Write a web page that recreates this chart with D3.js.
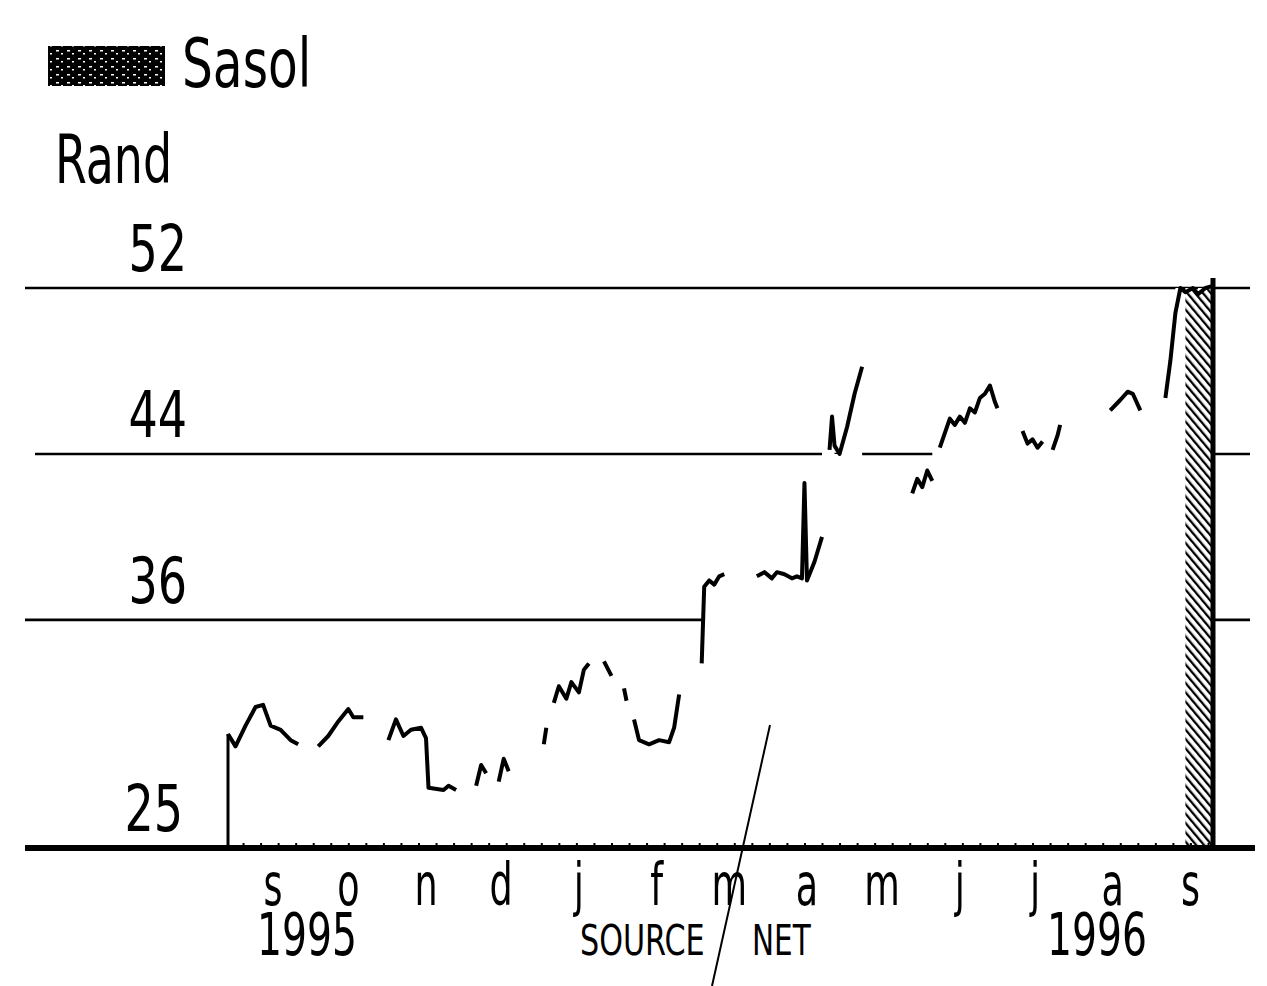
<!DOCTYPE html>
<html>
<head>
<meta charset="utf-8">
<script src="https://cdn.jsdelivr.net/npm/d3@7"></script>
<style>
  body { margin: 0; background: #fff; }
  text { font-family: 'DejaVu Sans Condensed', 'Liberation Sans Narrow', 'Roboto', sans-serif; fill: #000; }
</style>
</head>
<body>
<svg id="chart"></svg>
<script>
// Sasol share price, Rand (null = no ink printed)
var dates = [
  "1995-08-28","1995-08-31","1995-09-04","1995-09-08","1995-09-11","1995-09-14","1995-09-18","1995-09-22","1995-09-25","1995-09-29",
  "1995-10-03","1995-10-07","1995-10-11","1995-10-15","1995-10-17","1995-10-21","1995-10-26",
  "1995-10-31","1995-11-03","1995-11-06","1995-11-09","1995-11-13","1995-11-15","1995-11-16","1995-11-22","1995-11-24","1995-11-27","1995-12-01",
  "1995-12-05","1995-12-07","1995-12-09","1995-12-11","1995-12-14","1995-12-16","1995-12-18","1995-12-25",
  "1996-01-01","1996-01-02","1996-01-03",
  "1996-01-05","1996-01-07","1996-01-10","1996-01-12","1996-01-15","1996-01-17","1996-01-19","1996-01-22",
  "1996-01-25","1996-01-28","1996-01-31","1996-02-02","1996-02-03","1996-02-05",
  "1996-02-06","1996-02-08","1996-02-12","1996-02-16","1996-02-20","1996-02-22","1996-02-24","1996-02-28",
  "1996-03-04","1996-03-05","1996-03-07","1996-03-09","1996-03-11","1996-03-13","1996-03-19",
  "1996-03-26","1996-03-29","1996-04-01","1996-04-03","1996-04-06","1996-04-09","1996-04-11","1996-04-13","1996-04-14","1996-04-15","1996-04-18","1996-04-21","1996-04-22",
  "1996-04-24","1996-04-25","1996-04-26","1996-04-28","1996-05-01","1996-05-04","1996-05-07","1996-05-16",
  "1996-05-27","1996-05-29","1996-05-31","1996-06-02","1996-06-04","1996-06-05",
  "1996-06-07","1996-06-09","1996-06-11","1996-06-13","1996-06-15","1996-06-17","1996-06-19","1996-06-21","1996-06-23","1996-06-25","1996-06-27","1996-06-29","1996-06-30","1996-07-05",
  "1996-07-10","1996-07-12","1996-07-14","1996-07-16","1996-07-18","1996-07-20",
  "1996-07-22","1996-07-24","1996-07-25","1996-08-01",
  "1996-08-14","1996-08-18","1996-08-21","1996-08-23","1996-08-26","1996-08-30",
  "1996-09-05","1996-09-07","1996-09-09","1996-09-11","1996-09-13","1996-09-16","1996-09-18","1996-09-21","1996-09-24"
];
var prices = [
  30.5,29.9,30.9,31.8,31.9,30.9,30.7,30.2,30.0,null,
  29.9,30.4,31.1,31.7,31.3,31.3,null,
  30.2,31.2,30.4,30.7,30.8,30.3,27.9,27.8,28.0,27.8,null,
  28.0,29.0,28.6,null,28.2,29.3,28.7,null,
  30.0,30.8,null,
  32.0,32.8,32.2,33.0,32.5,33.6,33.9,null,
  34.0,33.3,null,32.7,32.1,null,
  31.2,30.2,30.0,30.2,30.1,30.8,32.4,null,
  33.9,37.6,37.9,37.7,38.1,38.2,null,
  38.1,38.3,38.0,38.3,38.2,38.0,38.1,38.0,42.6,37.9,38.8,40.0,null,
  44.2,45.8,44.4,44.0,45.3,46.9,48.2,null,
  42.1,42.8,42.4,43.2,42.7,null,
  44.3,45.0,45.7,45.4,45.8,45.5,46.2,46.0,46.7,46.9,47.3,46.5,46.2,null,
  45.1,44.5,44.7,44.3,44.6,null,
  44.2,44.9,45.4,null,
  46.1,46.6,47.0,46.9,46.1,null,
  46.7,48.5,50.8,52.0,51.8,52.0,51.7,52.0,52.1
];
var gridValues = [52, 44, 36];
var axisLabels = [52, 44, 36, 25];
var monthLabels = ["s","o","n","d","j","f","m","a","m","j","j","a","s"];
var yearLabels = ["1995", "1996"];
var hatchFrom = "1996-09-13";

var width = 1267, height = 986;
var svg = d3.select("#chart").attr("width", width).attr("height", height);
svg.append("rect").attr("width", width).attr("height", height).attr("fill", "#fff");

var parse = d3.timeParse("%Y-%m-%d");
var series = dates.map(function(d, i) { return {date: parse(d), value: prices[i]}; });
var printed = series.filter(function(d) { return d.value != null; });

var x = d3.scaleTime()
    .domain([parse("1995-08-28"), parse("1996-09-24")])
    .range([228, 1213]);
var y = d3.scaleLinear()
    .domain([25, 52])
    .range([848, 288]);

// patterns
var defs = svg.append("defs");
var hatch = defs.append("pattern")
    .attr("id", "hatch").attr("patternUnits", "userSpaceOnUse")
    .attr("width", 6).attr("height", 6)
    .attr("patternTransform", "rotate(-40)");
hatch.append("rect").attr("width", 6).attr("height", 6).attr("fill", "#fff");
hatch.append("line").attr("x1", 1).attr("y1", 0).attr("x2", 1).attr("y2", 6)
    .attr("stroke", "#000").attr("stroke-width", 2.6);

var speckle = defs.append("pattern")
    .attr("id", "speckle").attr("patternUnits", "userSpaceOnUse")
    .attr("width", 11).attr("height", 8);
speckle.append("rect").attr("width", 11).attr("height", 8).attr("fill", "#000");
speckle.append("rect").attr("x", 1).attr("y", 2).attr("width", 3).attr("height", 1.5).attr("fill", "#fff");
speckle.append("rect").attr("x", 6).attr("y", 5).attr("width", 2).attr("height", 1.5).attr("fill", "#fff");

function label(str, px, py, size, sx, anchor) {
  return svg.append("text")
    .attr("transform", "translate(" + px + "," + py + ") scale(" + sx + ",1)")
    .attr("text-anchor", anchor || "start")
    .attr("font-size", size + "px")
    .text(str);
}

// gridlines
svg.selectAll(".grid").data(gridValues).enter().append("line")
    .attr("class", "grid")
    .attr("x1", function(d) { return d == 44 ? 35 : 25; }).attr("x2", 1250)
    .attr("y1", function(d) { return y(d); }).attr("y2", function(d) { return y(d); })
    .attr("stroke", "#000").attr("stroke-width", 2.6);

// area under the price hides the gridlines (its fill dropped out of the scan)
svg.append("path").datum(printed)
    .attr("fill", "#fff")
    .attr("d", d3.area().curve(d3.curveStepBefore)
        .x(function(d) { return x(d.date); }).y0(y(25)).y1(function(d) { return y(d.value); }));

var hatched = printed.filter(function(d) { return d.date >= parse(hatchFrom); });
svg.append("path").datum(hatched)
    .attr("fill", "url(#hatch)")
    .attr("d", d3.area().x(function(d) { return x(d.date); }).y0(y(25)).y1(function(d) { return y(d.value); }));

// price line
svg.append("path").datum(series)
    .attr("fill", "none").attr("stroke", "#000").attr("stroke-width", 4)
    .attr("stroke-linejoin", "round")
    .attr("d", d3.line().defined(function(d) { return d.value != null; })
        .x(function(d) { return x(d.date); }).y(function(d) { return y(d.value); }));

// area edges
var first = printed[0], last = printed[printed.length - 1];
svg.append("line").attr("x1", x(first.date)).attr("x2", x(first.date))
    .attr("y1", y(first.value)).attr("y2", y(25)).attr("stroke", "#000").attr("stroke-width", 3);
svg.append("line").attr("x1", x(last.date)).attr("x2", x(last.date))
    .attr("y1", y(last.value) - 8).attr("y2", y(25)).attr("stroke", "#000").attr("stroke-width", 5);

// weekly ticks + baseline
var xAxis = d3.axisBottom(x).ticks(d3.timeWeek.every(1)).tickSize(-5).tickFormat("");
var xAxisGroup = svg.append("g").attr("transform", "translate(0," + y(25) + ")").call(xAxis);
xAxisGroup.select(".domain").remove();
xAxisGroup.selectAll("line").attr("stroke", "#000").attr("stroke-width", 2);
svg.append("line").attr("x1", 25).attr("x2", 1255).attr("y1", y(25)).attr("y2", y(25))
    .attr("stroke", "#000").attr("stroke-width", 6);

// y labels
axisLabels.forEach(function(v) {
  label(String(v), v == 25 ? 183 : 187, y(v) - 17, 64, 0.8, "end");
});

// month / year labels
monthLabels.forEach(function(m, i) {
  label(m, x(new Date(1995, 8 + i, 15)), 905, 58, 0.7, "middle");
});
label(yearLabels[0], 307, 955, 59, 0.74, "middle");
label(yearLabels[1], 1097, 955, 59, 0.74, "middle");

// source line
label("SOURCE", 580, 955, 42, 0.8, "start");
label("NET", 752, 955, 42, 0.78, "start");
svg.append("line").attr("x1", 770).attr("y1", 725).attr("x2", 712).attr("y2", 986)
    .attr("stroke", "#000").attr("stroke-width", 2);

// legend + unit
svg.append("rect").attr("x", 48).attr("y", 46).attr("width", 117).attr("height", 40)
    .attr("fill", "url(#speckle)");
label("Sasol", 182, 87, 68, 0.795, "start");
label("Rand", 55, 183, 68, 0.75, "start");
</script>
</body>
</html>
